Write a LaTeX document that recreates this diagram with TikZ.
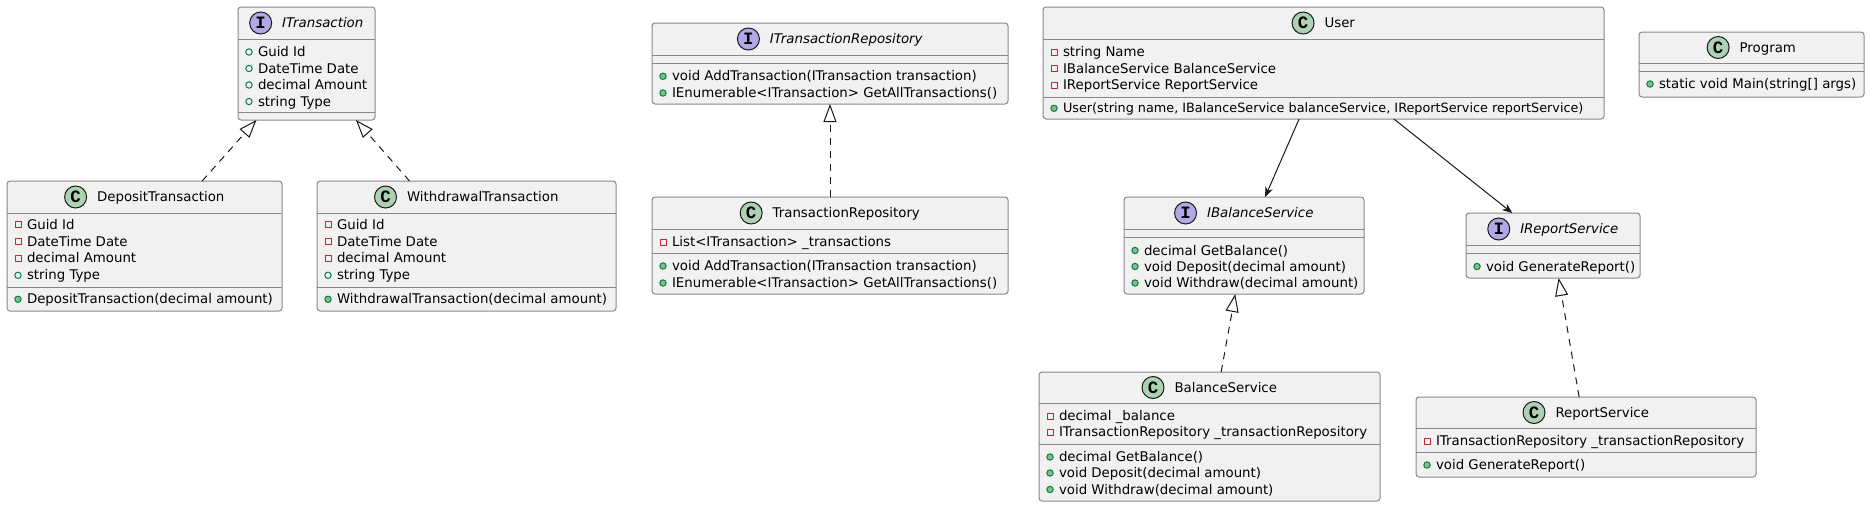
\documentclass[tikz,border=0pt]{standalone}
\usepackage{fontspec}
\setmainfont{DejaVu Sans}
\newfontfamily\badgefont{Liberation Mono}
\usetikzlibrary{arrows.meta,calc}
\definecolor{boxfill}{HTML}{F1F1F1}
\definecolor{bordc}{HTML}{888888}
\definecolor{linec}{HTML}{181818}
\definecolor{privc}{HTML}{C82930}
\definecolor{pubc}{HTML}{038048}
\definecolor{pubfill}{HTML}{84BE84}
\definecolor{cfill}{HTML}{ADD1B2}
\definecolor{ifill}{HTML}{B4A7E5}
\tikzset{
  clsb/.style={rectangle, draw=bordc, fill=boxfill, line width=0.75pt, rounded corners=2.25pt, inner sep=0pt, outer sep=0pt},
  sepl/.style={draw=bordc, line width=0.75pt},
  memtxt/.style={anchor=base west, inner sep=0pt, outer sep=0pt, font=\fontsize{10pt}{12pt}\selectfont, text=black},
  ttxt/.style={anchor=base, inner sep=0pt, outer sep=0pt, font=\fontsize{10pt}{12pt}\selectfont, text=black},
  itxt/.style={ttxt, font=\fontsize{10pt}{12pt}\selectfont\itshape},
  cbadge/.style={circle, draw=linec, line width=0.75pt, fill=cfill, minimum size=16.5pt, inner sep=0pt, font=\badgefont\bfseries\fontsize{13pt}{13pt}\selectfont},
  ibadge/.style={cbadge, fill=ifill},
  realz/.style={draw=linec, line width=0.75pt, dash pattern=on 5.25pt off 4.5pt, -{Triangle[length=13.5pt, width=9.75pt, fill=white]}},
  assoc/.style={draw=linec, line width=0.75pt, -{Stealth[length=7.5pt, width=6pt, inset=2.25pt]}},
}
% name, left, top, right, bottom, header line y
\newcommand\classbox[6]{%
  \node[clsb, minimum width={(#4-#2)*0.75pt}, minimum height={(#5-#3)*0.75pt}] (#1) at ({(#2+#4)/2},{(#3+#5)/2}) {};
  \draw[sepl] (#2,#6) -- (#4,#6);}
\newcommand\sepat[3]{\draw[sepl] (#1,#3) -- (#2,#3);}
% name, badge style, letter, text style, center x, header center y, text
\newcommand\ctitle[7]{%
  \node[#4] (#1-t) at ({#5+16.25},{#6+4.5}) {#7};
  \node[#2] (#1-b) at ($(#1-t.base west)+(-21.5,-4.5)$) {#3};}
\newcommand\iconpriv[2]{\draw[draw=privc, line width=0.75pt] ({#1-3},{#2-3}) rectangle ({#1+3},{#2+3});}
\newcommand\iconpubf[2]{\draw[draw=pubc, line width=0.75pt] (#1,#2) circle[radius=3.2];}
\newcommand\iconpubm[2]{\filldraw[draw=pubc, fill=pubfill, line width=0.75pt] (#1,#2) circle[radius=3.2];}
% node name, kind, box left, row y, text
\newcommand\mbr[5]{%
  \csname icon#2\endcsname{#3+11}{#4}%
  \node[memtxt] (#1) at ({#3+20},{#4+4.5}) {#5};}
\begin{document}
\begin{tikzpicture}[x=0.75pt, y=-0.75pt]
\useasboundingbox (0,0) rectangle (1870,507);

% ITransaction
\classbox{itr}{238}{7}{375}{120}{39}
\sepat{238}{375}{112}
\ctitle{itr}{ibadge}{I}{itxt}{306.5}{23}{ITransaction}
\mbr{itr-a1}{pubf}{238}{52}{Guid Id}
\mbr{itr-a2}{pubf}{238}{68.5}{DateTime Date}
\mbr{itr-a3}{pubf}{238}{85}{decimal Amount}
\mbr{itr-a4}{pubf}{238}{101.5}{string Type}

% DepositTransaction
\classbox{dep}{7}{181}{282}{311}{213}
\sepat{7}{282}{287}
\ctitle{dep}{cbadge}{C}{ttxt}{144.5}{197}{DepositTransaction}
\mbr{dep-a1}{priv}{7}{224.5}{Guid Id}
\mbr{dep-a2}{priv}{7}{241.5}{DateTime Date}
\mbr{dep-a3}{priv}{7}{258.3}{decimal Amount}
\mbr{dep-a4}{pubf}{7}{275.3}{string Type}
\mbr{dep-m1}{pubm}{7}{299.3}{DepositTransaction(decimal amount)}

% WithdrawalTransaction
\classbox{wd}{317}{181}{616}{311}{213}
\sepat{317}{616}{287}
\ctitle{wd}{cbadge}{C}{ttxt}{466.5}{197}{WithdrawalTransaction}
\mbr{wd-a1}{priv}{317}{224.5}{Guid Id}
\mbr{wd-a2}{priv}{317}{241.5}{DateTime Date}
\mbr{wd-a3}{priv}{317}{258.3}{decimal Amount}
\mbr{wd-a4}{pubf}{317}{275.3}{string Type}
\mbr{wd-m1}{pubm}{317}{299.3}{WithdrawalTransaction(decimal amount)}

% ITransactionRepository
\classbox{itrepo}{652}{23}{1008}{104}{55}
\sepat{652}{1008}{63}
\ctitle{itrepo}{ibadge}{I}{itxt}{830}{39}{ITransactionRepository}
\mbr{itrepo-m1}{pubm}{652}{76.3}{void AddTransaction(ITransaction transaction)}
\mbr{itrepo-m2}{pubm}{652}{93}{IEnumerable<ITransaction> GetAllTransactions()}

% TransactionRepository
\classbox{trepo}{652}{197}{1008}{294}{229}
\sepat{652}{1008}{253}
\ctitle{trepo}{cbadge}{C}{ttxt}{830}{213}{TransactionRepository}
\mbr{trepo-a1}{priv}{652}{242}{List<ITransaction> \_transactions}
\mbr{trepo-m1}{pubm}{652}{266}{void AddTransaction(ITransaction transaction)}
\mbr{trepo-m2}{pubm}{652}{283}{IEnumerable<ITransaction> GetAllTransactions()}

% User
\classbox{user}{1043}{7}{1604}{119}{39}
\sepat{1043}{1604}{97}
\ctitle{user}{cbadge}{C}{ttxt}{1323.5}{23}{User}
\mbr{user-a1}{priv}{1043}{52.3}{string Name}
\mbr{user-a2}{priv}{1043}{68.5}{IBalanceService BalanceService}
\mbr{user-a3}{priv}{1043}{85}{IReportService ReportService}
\mbr{user-m1}{pubm}{1043}{108.3}{\fontsize{9.6pt}{12pt}\selectfont User(string name, IBalanceService balanceService, IReportService reportService)}

% Program
\classbox{prog}{1639}{32}{1864}{97}{63}
\sepat{1639}{1864}{71}
\ctitle{prog}{cbadge}{C}{ttxt}{1751.5}{47.5}{Program}
\mbr{prog-m1}{pubm}{1639}{84}{static void Main(string[] args)}

% IBalanceService
\classbox{ibs}{1124}{197}{1364}{294}{229}
\sepat{1124}{1364}{237}
\ctitle{ibs}{ibadge}{I}{itxt}{1244}{213}{IBalanceService}
\mbr{ibs-m1}{pubm}{1124}{250.5}{decimal GetBalance()}
\mbr{ibs-m2}{pubm}{1124}{266.5}{void Deposit(decimal amount)}
\mbr{ibs-m3}{pubm}{1124}{283}{void Withdraw(decimal amount)}

% IReportService
\classbox{irs}{1466}{213}{1640}{278}{245}
\sepat{1466}{1640}{253}
\ctitle{irs}{ibadge}{I}{itxt}{1553}{229}{IReportService}
\mbr{irs-m1}{pubm}{1466}{266.5}{void GenerateReport()}

% BalanceService
\classbox{bs}{1039}{372}{1380}{501}{403}
\sepat{1039}{1380}{444}
\ctitle{bs}{cbadge}{C}{ttxt}{1209.5}{387.5}{BalanceService}
\mbr{bs-a1}{priv}{1039}{416}{decimal \_balance}
\mbr{bs-a2}{priv}{1039}{432}{ITransactionRepository \_transactionRepository}
\mbr{bs-m1}{pubm}{1039}{457}{decimal GetBalance()}
\mbr{bs-m2}{pubm}{1039}{473}{void Deposit(decimal amount)}
\mbr{bs-m3}{pubm}{1039}{489.5}{void Withdraw(decimal amount)}

% ReportService
\classbox{rs}{1416}{397}{1756}{477}{428}
\sepat{1416}{1756}{452.5}
\ctitle{rs}{cbadge}{C}{ttxt}{1586}{412.5}{ReportService}
\mbr{rs-a1}{priv}{1416}{441}{ITransactionRepository \_transactionRepository}
\mbr{rs-m1}{pubm}{1416}{465}{void GenerateReport()}

% connectors
\draw[realz] (dep) -- (itr);
\draw[realz] (wd) -- (itr);
\draw[realz] (trepo) -- (itrepo);
\draw[realz] (bs) -- (ibs);
\draw[realz] (rs) -- (irs);
\draw[assoc] (user) -- (ibs);
\draw[assoc] (user) -- (irs);
\end{tikzpicture}
\end{document}
